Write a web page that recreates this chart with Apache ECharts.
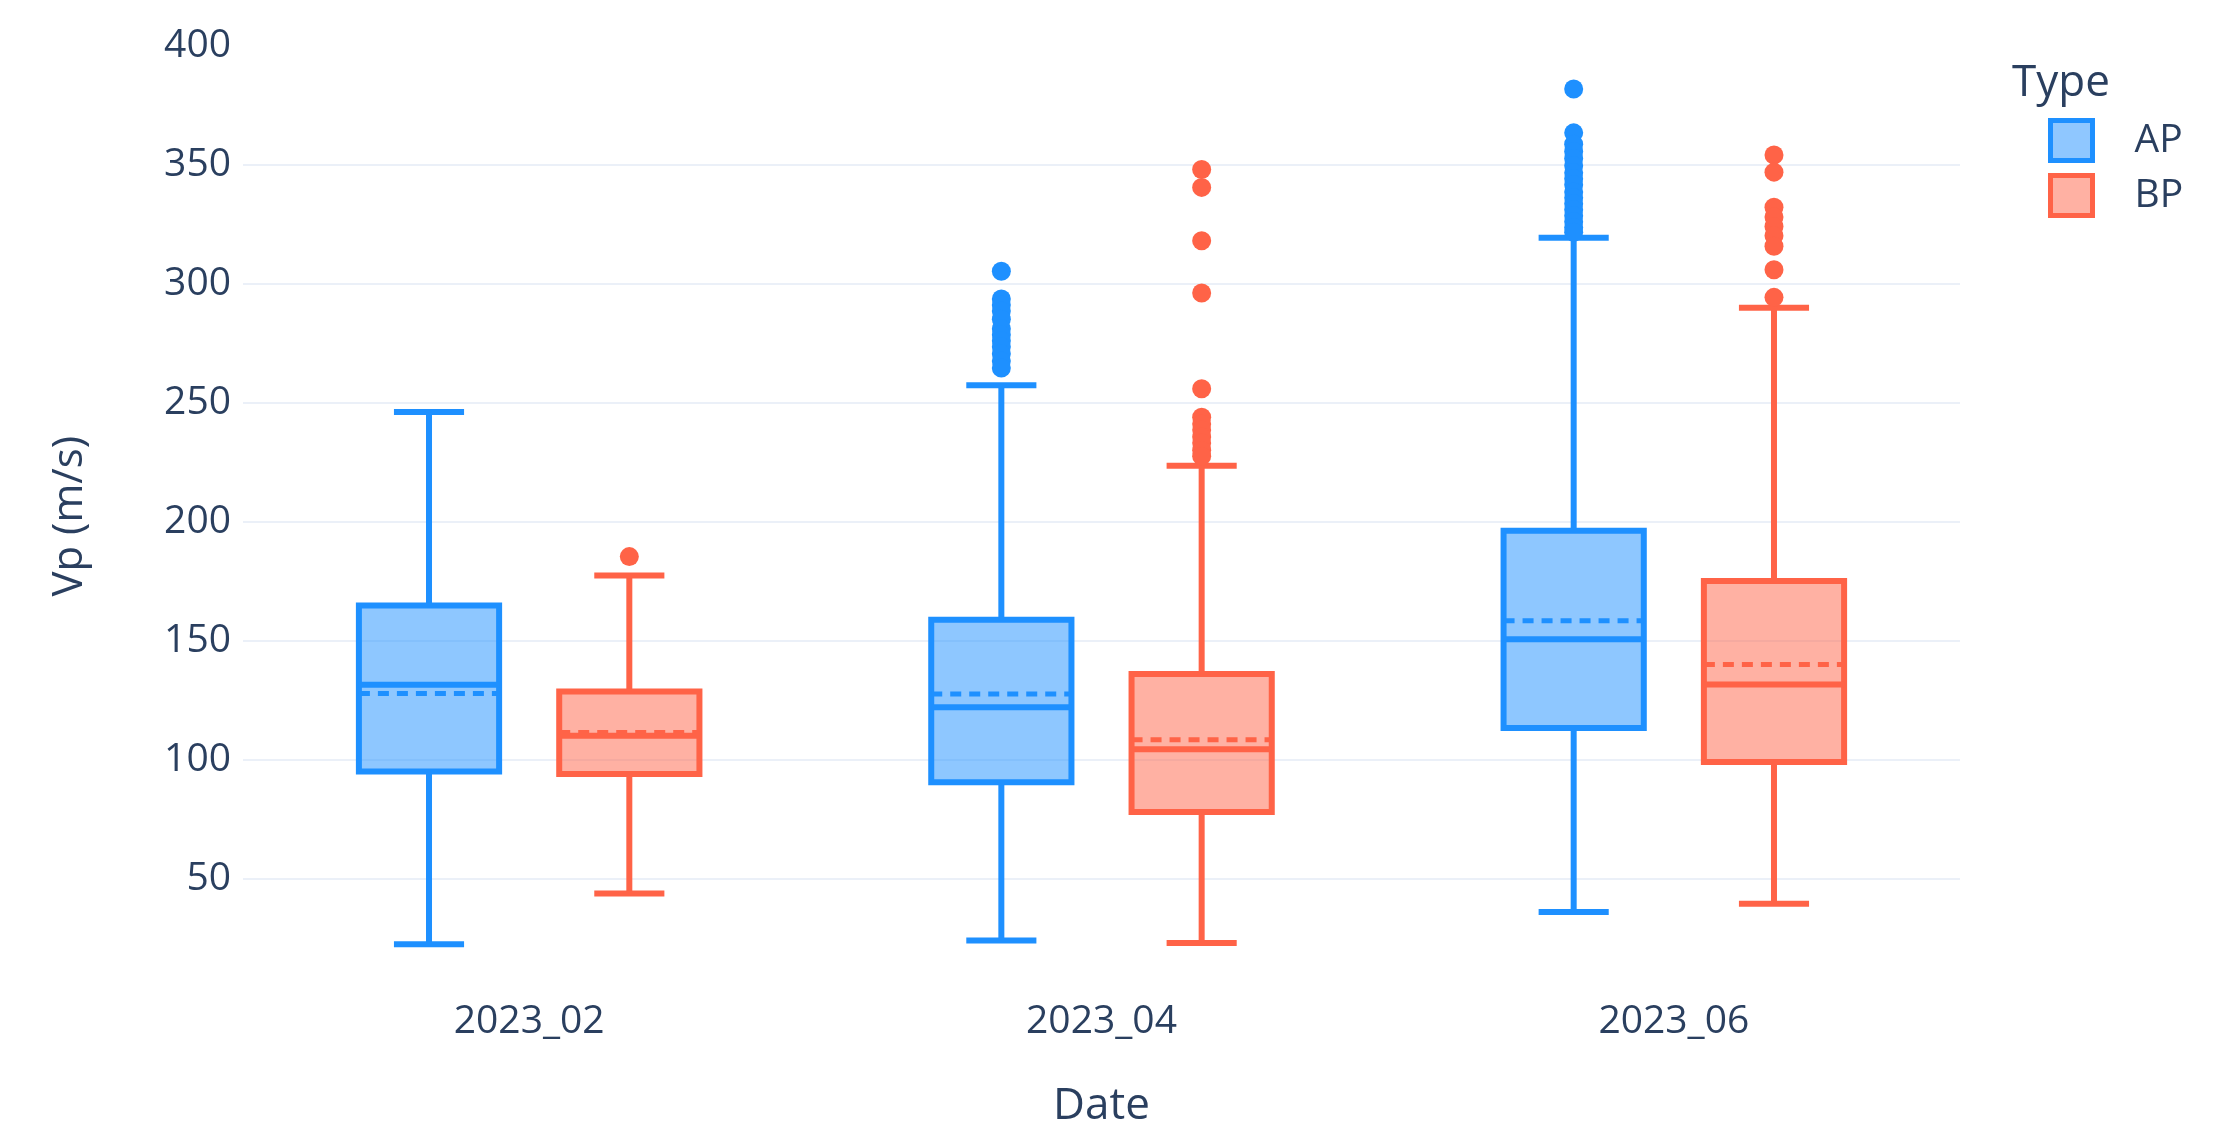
<!DOCTYPE html>
<html>
<head>
<meta charset="utf-8">
<title>Vp by Date and Type</title>
<script src="https://cdn.jsdelivr.net/npm/echarts@6/dist/echarts.min.js"></script>
<style>
  html, body { margin: 0; padding: 0; background: #ffffff; }
  #chart { width: 2233px; height: 1124px; }
</style>
</head>
<body>
<div id="chart"></div>
<script>
// Categories on the x axis
const dates = ['2023_02', '2023_04', '2023_06'];
const types = ['AP', 'BP'];

// Box statistics per date (Vp, m/s)
const apLower  = [22.5, 24.0, 36.0];
const apQ1     = [95.0, 90.5, 113.3];
const apMedian = [131.5, 122.0, 150.6];
const apQ3     = [164.8, 158.8, 196.2];
const apUpper  = [246.0, 257.3, 319.2];
const apMean   = [127.8, 127.6, 158.3];

const bpLower  = [43.8, 23.0, 39.5];
const bpQ1     = [94.0, 78.0, 99.0];
const bpMedian = [110.0, 104.4, 131.6];
const bpQ3     = [128.6, 136.0, 175.0];
const bpUpper  = [177.4, 223.5, 289.8];
const bpMean   = [111.4, 108.4, 140.0];

// Outlying points per date
const apOutliers = [
  [],
  [305.2, 293.5, 291.0, 288.5, 285.0, 281.0, 278.5, 276.0, 273.5, 270.5, 267.5, 264.5],
  [381.7, 363.3, 358.5, 355.5, 352.5, 349.5, 346.5, 344.0, 341.5, 338.5, 336.0, 333.5, 331.0, 328.5, 326.0, 323.5, 321.5]
];
const bpOutliers = [
  [185.3],
  [347.9, 340.4, 318.0, 296.0, 255.8, 243.8, 241.0, 238.5, 235.5, 233.0, 230.0, 227.5],
  [354.0, 346.8, 332.1, 328.0, 324.0, 320.1, 315.7, 305.8, 294.2]
];

// Y axis tick labels
const yTicks = [50, 100, 150, 200, 250, 300, 350, 400];

const TEXT = '#2a3f5f';
const GRID = '#EBF0F8';
const FONT = '"Open Sans", "Noto Sans", sans-serif';
const AP_LINE = '#1E90FF', AP_FILL = 'rgba(30,144,255,0.5)';
const BP_LINE = '#FF6347', BP_FILL = 'rgba(255,99,71,0.5)';
const BOX_FRAC = 0.245;     // box width as a share of the category band
const LINE_W = 6;

function boxRows(lo, q1, med, q3, hi, mean) {
  return dates.map((d, i) => [i, lo[i], q1[i], med[i], q3[i], hi[i], mean[i]]);
}
function outlierRows(list) {
  const rows = [];
  list.forEach((vals, i) => vals.forEach(v => rows.push([i, v])));
  return rows;
}

function boxRenderer(shift, line, fill) {
  return function (params, api) {
    const idx = api.value(0);
    const band = api.size([1, 0])[0];
    const cx = api.coord([idx, 0])[0] + shift * band;
    const half = band * BOX_FRAC / 2;
    const cap = half / 2;
    const y = v => api.coord([idx, v])[1];
    const yLo = y(api.value(1)), yQ1 = y(api.value(2)), yMed = y(api.value(3));
    const yQ3 = y(api.value(4)), yHi = y(api.value(5)), yMean = y(api.value(6));
    const stroke = { stroke: line, lineWidth: LINE_W, fill: null };
    return {
      type: 'group',
      children: [
        { type: 'line', shape: { x1: cx, y1: yQ3, x2: cx, y2: yHi }, style: stroke },
        { type: 'line', shape: { x1: cx, y1: yQ1, x2: cx, y2: yLo }, style: stroke },
        { type: 'line', shape: { x1: cx - cap, y1: yHi, x2: cx + cap, y2: yHi }, style: stroke },
        { type: 'line', shape: { x1: cx - cap, y1: yLo, x2: cx + cap, y2: yLo }, style: stroke },
        { type: 'rect', shape: { x: cx - half, y: yQ3, width: half * 2, height: yQ1 - yQ3 },
          style: { fill: fill, stroke: line, lineWidth: LINE_W } },
        { type: 'line', shape: { x1: cx - half, y1: yMed, x2: cx + half, y2: yMed }, style: stroke },
        { type: 'line', shape: { x1: cx - half, y1: yMean, x2: cx + half, y2: yMean },
          style: { stroke: line, lineWidth: 5, lineDash: [11, 8], fill: null } }
      ]
    };
  };
}

function pointRenderer(shift, color) {
  return function (params, api) {
    const idx = api.value(0);
    const band = api.size([1, 0])[0];
    const p = api.coord([idx, api.value(1)]);
    return {
      type: 'circle',
      shape: { cx: p[0] + shift * band, cy: p[1], r: 9.5 },
      style: { fill: color }
    };
  };
}

const chart = echarts.init(document.getElementById('chart'), null, { renderer: 'canvas' });

chart.setOption({
  backgroundColor: '#ffffff',
  animation: false,
  textStyle: { fontFamily: FONT, color: TEXT },
  title: {
    text: 'Type',
    left: 2012,
    top: 61,
    padding: 0,
    textStyle: { fontFamily: FONT, fontSize: 44, fontWeight: 'normal', color: TEXT }
  },
  legend: {
    orient: 'vertical',
    left: 2048,
    top: 118,
    padding: 0,
    itemWidth: 42,
    itemHeight: 40,
    itemGap: 10,
    icon: 'rect',
    textStyle: { fontFamily: FONT, fontSize: 39, color: TEXT, padding: [0, 0, 0, 37] },
    data: [
      { name: 'AP', itemStyle: { color: '#8FC7FF', borderColor: AP_LINE, borderWidth: 5 } },
      { name: 'BP', itemStyle: { color: '#FFB1A3', borderColor: BP_LINE, borderWidth: 5 } }
    ]
  },
  grid: { left: 243, right: 273, top: 45.5, bottom: 137, outerBoundsMode: 'none', containLabel: false },
  xAxis: {
    type: 'category',
    data: dates,
    axisLine: { show: false },
    axisTick: { show: false },
    splitLine: { show: false },
    axisLabel: { fontFamily: FONT, fontSize: 39, color: TEXT, margin: 15 },
    name: 'Date',
    nameLocation: 'middle',
    nameGap: 97,
    nameTextStyle: { fontFamily: FONT, fontSize: 44, color: TEXT }
  },
  yAxis: {
    type: 'value',
    min: 4.5,
    max: 400,
    axisLine: { show: false },
    axisTick: { show: false, customValues: yTicks },
    axisLabel: { fontFamily: FONT, fontSize: 39, color: TEXT, margin: 12, customValues: yTicks },
    splitLine: { show: true, showMaxLine: false, lineStyle: { color: GRID, width: 2 } },
    name: 'Vp (m/s)',
    nameLocation: 'middle',
    nameGap: 152,
    nameTextStyle: { fontFamily: FONT, fontSize: 42, color: TEXT }
  },
  series: [
    {
      name: 'AP', type: 'custom', coordinateSystem: 'cartesian2d',
      itemStyle: { color: '#8FC7FF', borderColor: AP_LINE },
      encode: { x: 0, y: [1, 2, 3, 4, 5, 6] },
      renderItem: boxRenderer(-0.175, AP_LINE, AP_FILL),
      data: boxRows(apLower, apQ1, apMedian, apQ3, apUpper, apMean)
    },
    {
      name: 'BP', type: 'custom', coordinateSystem: 'cartesian2d',
      itemStyle: { color: '#FFB1A3', borderColor: BP_LINE },
      encode: { x: 0, y: [1, 2, 3, 4, 5, 6] },
      renderItem: boxRenderer(0.175, BP_LINE, BP_FILL),
      data: boxRows(bpLower, bpQ1, bpMedian, bpQ3, bpUpper, bpMean)
    },
    {
      name: 'AP', type: 'custom', coordinateSystem: 'cartesian2d',
      encode: { x: 0, y: 1 },
      renderItem: pointRenderer(-0.175, AP_LINE),
      data: outlierRows(apOutliers)
    },
    {
      name: 'BP', type: 'custom', coordinateSystem: 'cartesian2d',
      encode: { x: 0, y: 1 },
      renderItem: pointRenderer(0.175, BP_LINE),
      data: outlierRows(bpOutliers)
    }
  ]
});
</script>
</body>
</html>
